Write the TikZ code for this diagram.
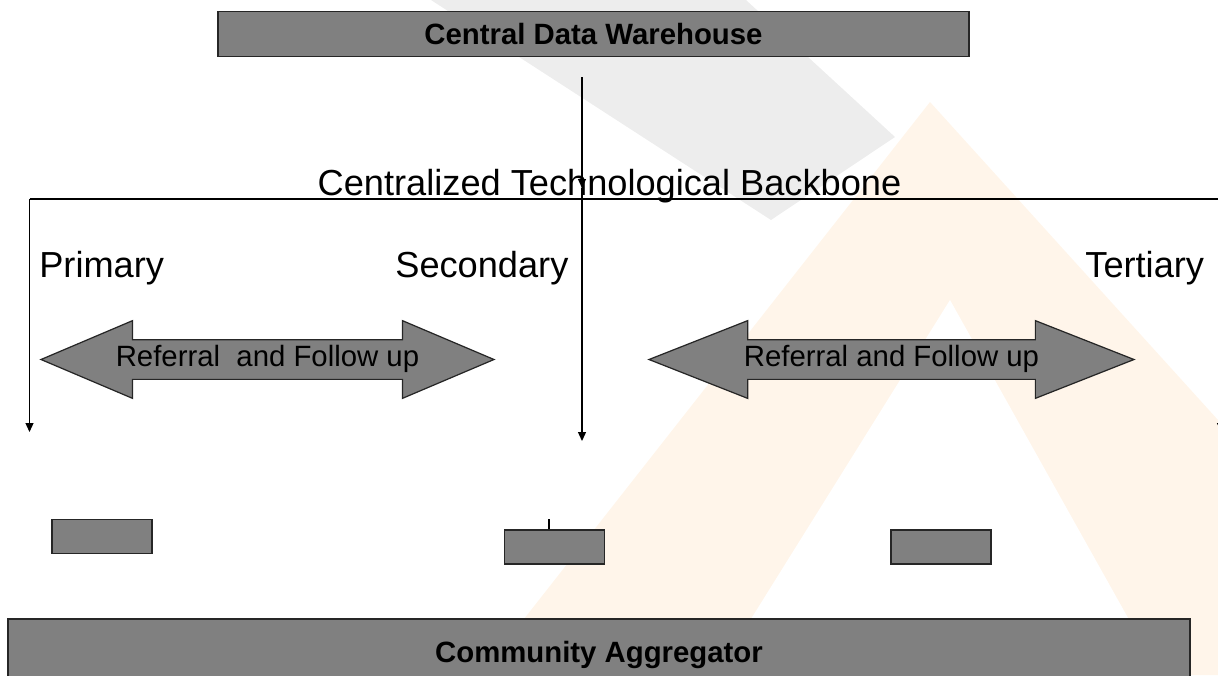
\documentclass[tikz,border=0pt]{standalone}
\usepackage{fontspec}
\setmainfont{Liberation Sans}
\usepackage{tikz}
\usetikzlibrary{shapes.geometric, shapes.arrows, arrows.meta, positioning}
\definecolor{logogrey}{HTML}{EDEDED}
\definecolor{logopeach}{HTML}{FFF5EA}
\tikzstyle{bar} = [rectangle, text centered, draw=black!85, line width=0.7pt, fill=black!50, font=\fontsize{16.7}{20}\selectfont\bfseries]
\tikzstyle{slot} = [rectangle, minimum width=2cm, minimum height=0.68cm, draw=black!85, line width=0.7pt, fill=black!50]
\tikzstyle{referral} = [double arrow, draw=black!85, line width=0.7pt, fill=black!50, double arrow head extend=0.38cm, inner xsep=0pt, inner ysep=3.2pt, text height=12pt, text depth=3.5pt, font=\fontsize{16.7}{20}\selectfont]
\tikzstyle{level} = [inner sep=0pt, font=\fontsize{20.6}{24}\selectfont]
\tikzstyle{arrow} = [line width=0.7pt, -{Triangle[length=0.18cm, width=0.16cm]}]

\begin{document}
\begin{tikzpicture}[node distance=1.5cm]

  \useasboundingbox (0,0) rectangle (24.36,-13.5);
  \clip (0,0) rectangle (24.36,-13.5);
  \fill [logopeach] (9.6,-13.5) -- (18.6,-2.04) -- (24.36,-8.4) -- (24.36,-13.5) -- cycle;
  \fill [white] (14.32,-13.5) -- (19.0,-6.0) -- (23.2,-13.5) -- cycle;
  \fill [logogrey] (8.62,0) -- (14.92,0) -- (17.9,-2.74) -- (15.42,-4.4) -- cycle;

  \node (warehouse) [bar, minimum width=15.02cm, minimum height=0.89cm] at (11.87,-0.68) {Central Data Warehouse};
  \node (aggregator) [bar, minimum width=23.64cm, minimum height=1.42cm] at (11.98,-13.09) {Community Aggregator};

  \node (backbone) [level, anchor=base] at (12.19,-3.9) {Centralized Technological Backbone};
  \node (primary) [level, anchor=base west] at (0.78,-5.54) {Primary};
  \node (secondary) [level, anchor=base west] at (7.9,-5.54) {Secondary};
  \node (tertiary) [level, anchor=base west] at (21.7,-5.54) {Tertiary};

  \node (refleft) [referral, minimum height=9.06cm, double arrow tip angle=46] at (5.35,-7.19) {Referral\ \ and Follow up};
  \node (refright) [referral, minimum height=9.7cm, double arrow tip angle=43] at (17.83,-7.19) {Referral and Follow up};

  \node (primslot) [slot] at (2.04,-10.73) {};
  \node (secslot) [slot] at (11.09,-10.94) {};
  \node (tertslot) [slot] at (18.82,-10.94) {};

  \coordinate (feed) at (11.64,-1.54);
  \coordinate (hub) at (11.64,-3.76);
  \coordinate (bbl) at (0.59,-3.98);
  \coordinate (bbr) at (24.42,-3.98);
  \coordinate (primend) at (0.59,-8.64);
  \coordinate (secend) at (11.64,-8.82);
  \coordinate (tertend) at (24.42,-8.64);

  \draw [arrow] (feed) -- (hub);
  \draw [line width=0.7pt] (bbl) -- (bbr);
  \draw [arrow] (bbl) -- (primend);
  \draw [arrow] (hub) -- (secend);
  \draw [arrow] (bbr) -- (tertend);
  \draw [line width=0.7pt] ([xshift=-0.11cm]secslot.north) -- ++(0,0.2);

\end{tikzpicture}
\end{document}
